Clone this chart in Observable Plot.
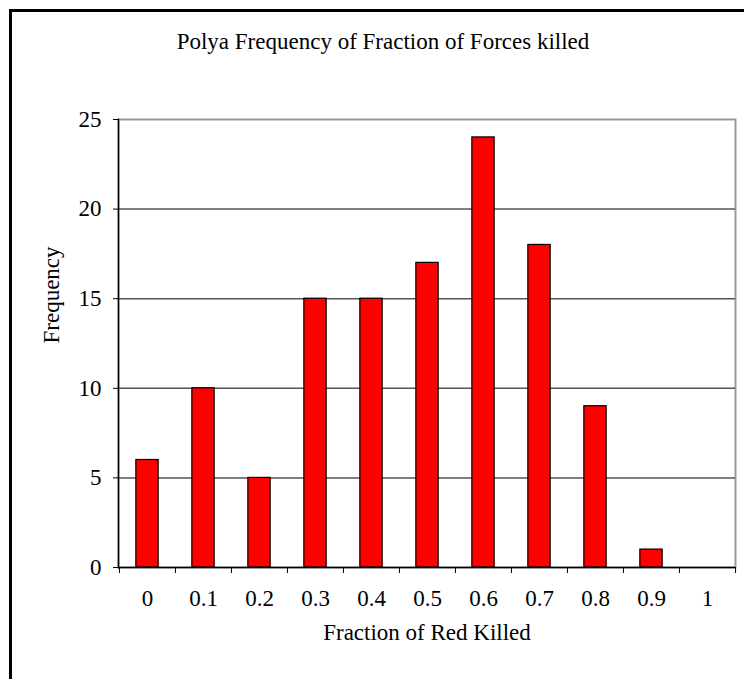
<!DOCTYPE html>
<html>
<head>
<meta charset="utf-8">
<script src="https://cdn.jsdelivr.net/npm/d3@7"></script>
<script src="https://cdn.jsdelivr.net/npm/@observablehq/plot@0.6"></script>
<style>
  html, body { margin: 0; padding: 0; background: #fff; }
  #wrap { position: relative; width: 744px; height: 679px; overflow: hidden; background: #fff; }
  #border { position: absolute; left: 9px; top: 9px; width: 900px; height: 900px; border: 3px solid #000; box-sizing: border-box; }
  #title { position: absolute; left: 0; top: 30px; width: 766px; text-align: center; font-family: "Liberation Serif", "Times New Roman", serif; font-size: 23px; line-height: 23px; color: #000; white-space: nowrap; }
  #chart { position: absolute; left: 0; top: 0; }
</style>
</head>
<body>
<div id="wrap">
  <div id="border"></div>
  <div id="title"></div>
  <div id="chart"></div>
</div>
<script>
const categories = ["0", "0.1", "0.2", "0.3", "0.4", "0.5", "0.6", "0.7", "0.8", "0.9", "1"];
const frequencies = [6, 10, 5, 15, 15, 17, 24, 18, 9, 1, 0];
const yTicks = [0, 5, 10, 15, 20, 25];
const gridValues = [5, 10, 15, 20];
const titleText = "Polya Frequency of Fraction of Forces killed";
const xLabel = "Fraction of Red Killed";
const yLabel = "Frequency";

const data = categories.map((c, i) => ({cat: c, freq: frequencies[i]}));

const W = 744, H = 679;
const mL = 118, mR = 9, mT = 119, mB = 112;
const bandW = (W - mL - mR) / categories.length;
const font = "Liberation Serif, Times New Roman, serif";
const fs = 23;

const chart = Plot.plot({
  width: W,
  height: H,
  marginLeft: mL,
  marginRight: mR,
  marginTop: mT,
  marginBottom: mB,
  style: {fontFamily: font, fontSize: fs + "px", color: "#000", background: "transparent", overflow: "visible"},
  x: {type: "band", domain: categories, padding: 0, axis: null},
  y: {domain: [0, 25], axis: null},
  marks: [
    Plot.frame({stroke: "#999", strokeWidth: 2}),
    Plot.ruleY(gridValues, {stroke: "#555", strokeWidth: 1.5}),
    Plot.barY(data, {x: "cat", y: "freq", fill: "#ff0000", stroke: "#000", strokeWidth: 1.2,
      insetLeft: (bandW - 22.4) / 2, insetRight: (bandW - 22.4) / 2}),
    Plot.ruleY([0], {stroke: "#000", strokeWidth: 1.5}),
    Plot.frame({anchor: "left", stroke: "#000", strokeWidth: 1.5}),
    Plot.axisY({ticks: yTicks, tickSize: 5, tickPadding: 12, fontSize: fs, fontFamily: font, label: null, stroke: "#000"}),
    Plot.axisX({tickSize: 6, text: null, dx: -bandW / 2, label: null, stroke: "#000"}),
    Plot.axisX([categories[categories.length - 1]], {tickSize: 6, text: null, dx: bandW / 2, label: null, stroke: "#000"}),
    Plot.axisX({tickSize: 0, tickPadding: 22, fontSize: fs, fontFamily: font, label: null}),
    Plot.text([xLabel], {frameAnchor: "bottom", dy: 72, fontSize: fs, fontFamily: font, fill: "#000"}),
    Plot.text([yLabel], {frameAnchor: "left", rotate: -90, dx: -67, fontSize: fs, fontFamily: font, fill: "#000"})
  ]
});

document.getElementById("chart").appendChild(chart);
document.getElementById("title").textContent = titleText;
</script>
</body>
</html>
